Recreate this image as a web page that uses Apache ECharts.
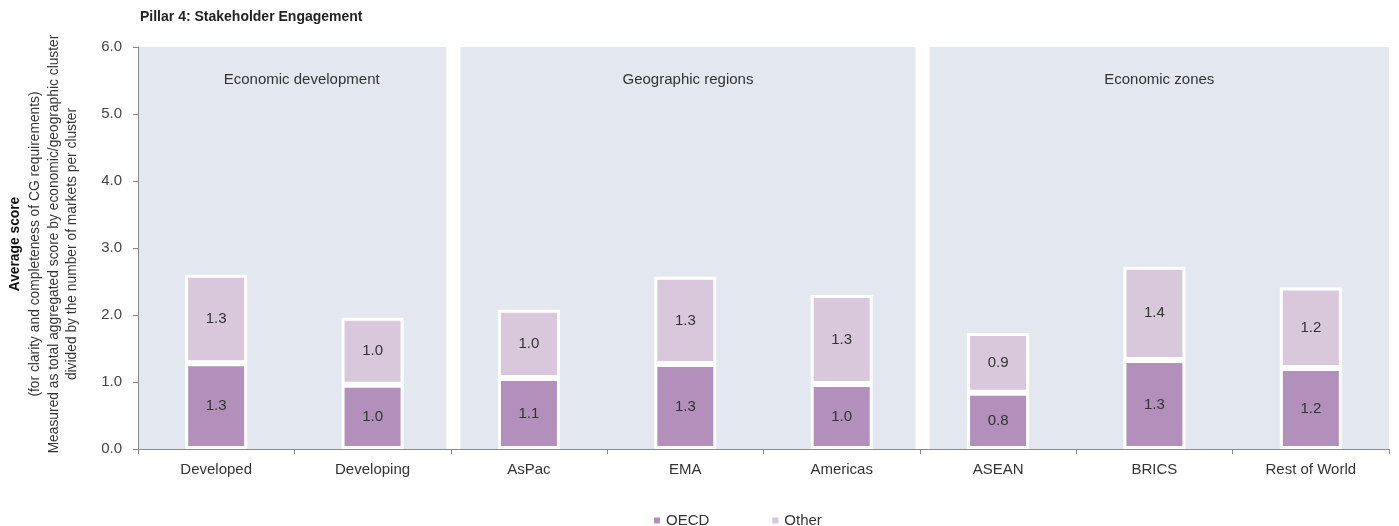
<!DOCTYPE html>
<html>
<head>
<meta charset="utf-8">
<title>Pillar 4: Stakeholder Engagement</title>
<script src="https://cdn.jsdelivr.net/npm/echarts@6/dist/echarts.min.js"></script>
<style>
  html, body { margin: 0; padding: 0; background: #fff; }
  #chart { width: 1399px; height: 526px; }
</style>
</head>
<body>
<div id="chart"></div>
<script>
// Clusters along the category axis
const categories = ['Developed', 'Developing', 'AsPac', 'EMA', 'Americas', 'ASEAN', 'BRICS', 'Rest of World'];
// Average score per cluster, split by OECD / non-OECD contribution
const oecdValues = [1.28, 0.96, 1.06, 1.27, 0.97, 0.84, 1.33, 1.21];
const otherValues = [1.32, 1.00, 1.02, 1.30, 1.33, 0.89, 1.39, 1.20];
const seriesNames = ['OECD', 'Other'];
// Cluster groupings: [first category index, end category index, heading]
const panelNames = ['Economic development', 'Geographic regions', 'Economic zones'];
const panelStarts = [0, 2, 5];
const panelEnds = [2, 5, 8];
const yTicks = [0, 1, 2, 3, 4, 5, 6];
const title = 'Pillar 4: Stakeholder Engagement';
const yTitleLines = [
  'Average score',
  '(for clarity and completeness of CG requirements)',
  'Measured as total aggregated score by economic/geographic cluster',
  'divided by the number of markets per cluster'
];

const FONT = '"Liberation Sans", Arial, sans-serif';
const TEXT = '#333333';
const COLORS = ['#b38fbb', '#d9c7dc'];
const PANEL = '#e3e7f0';

const chart = echarts.init(document.getElementById('chart'), null, { renderer: 'canvas' });

const panelData = panelNames.map((n, i) => [panelStarts[i], panelEnds[i], n]);

const yTitleX = [15, 35, 54, 72];

const option = {
  animation: false,
  textStyle: { fontFamily: FONT },
  title: {
    text: title,
    left: 135, top: 5,
    textStyle: { fontSize: 14, fontWeight: 'bold', color: '#222', fontFamily: FONT }
  },
  graphic: yTitleLines.map((t, i) => ({
    type: 'text',
    x: yTitleX[i], y: 244,
    rotation: Math.PI / 2,
    style: {
      text: t,
      align: 'center', verticalAlign: 'middle',
      fill: i === 0 ? '#111' : TEXT,
      font: (i === 0 ? 'bold 13.8px ' : '13.8px ') + FONT
    }
  })),
  legend: {
    data: seriesNames,
    left: 647, top: 508,
    icon: 'rect', itemWidth: 8, itemHeight: 8, itemGap: 61,
    textStyle: { fontSize: 15, color: TEXT, fontFamily: FONT }
  },
  grid: { left: 138, right: 10, top: 47, bottom: 77, containLabel: false },
  xAxis: [
    {
      type: 'category',
      data: categories,
      axisLine: { lineStyle: { color: '#8a8a8a', width: 1 } },
      axisTick: { show: true, length: 5, lineStyle: { color: '#8a8a8a' } },
      axisLabel: { color: TEXT, fontSize: 15, margin: 13, fontFamily: FONT },
      z: 5
    },
    { type: 'value', min: 0, max: 8, show: false }
  ],
  yAxis: {
    type: 'value',
    min: 0, max: 6, interval: 1,
    axisLine: { show: true, lineStyle: { color: '#8a8a8a' } },
    axisTick: { show: true, length: 5, lineStyle: { color: '#8a8a8a' } },
    splitLine: { show: false },
    axisLabel: {
      color: '#444', fontSize: 15, margin: 16, fontFamily: FONT,
      formatter: v => yTicks.includes(v) ? v.toFixed(1) : ''
    }
  },
  series: [
    {
      type: 'custom',
      name: 'panels',
      xAxisIndex: 1,
      yAxisIndex: 0,
      z: 0,
      silent: true,
      data: panelData,
      encode: { x: [0, 1] },
      renderItem: function (params, api) {
        const s = api.value(0), e = api.value(1);
        const left = api.coord([s === 0 ? s : s + 0.062, 6]);
        const right = api.coord([e === 8 ? e : e - 0.028, 0]);
        const x0 = left[0] + (s === 0 ? 1 : 0);
        const w = right[0] - x0;
        const top = left[1], bottom = right[1];
        return {
          type: 'group',
          children: [
            { type: 'rect', shape: { x: x0, y: top, width: w, height: bottom - top }, style: { fill: PANEL } },
            {
              type: 'text',
              x: x0 + w / 2 + (s === 0 ? 9 : 0), y: top + 33,
              style: {
                text: panelData[params.dataIndex][2],
                align: 'center', verticalAlign: 'middle',
                fill: TEXT, font: '15px ' + FONT
              }
            }
          ]
        };
      }
    },
    {
      name: seriesNames[0],
      type: 'bar',
      stack: 'score',
      data: oecdValues,
      barWidth: 62,
      z: 3,
      itemStyle: { color: COLORS[0], borderColor: '#ffffff', borderWidth: 3 },
      label: {
        show: true, position: 'inside', color: TEXT, fontSize: 15, fontFamily: FONT,
        formatter: p => p.value.toFixed(1)
      }
    },
    {
      name: seriesNames[1],
      type: 'bar',
      stack: 'score',
      data: otherValues,
      barWidth: 62,
      z: 3,
      itemStyle: { color: COLORS[1], borderColor: '#ffffff', borderWidth: 3 },
      label: {
        show: true, position: 'inside', color: TEXT, fontSize: 15, fontFamily: FONT,
        formatter: p => p.value.toFixed(1)
      }
    }
  ]
};

chart.setOption(option);
</script>
</body>
</html>
